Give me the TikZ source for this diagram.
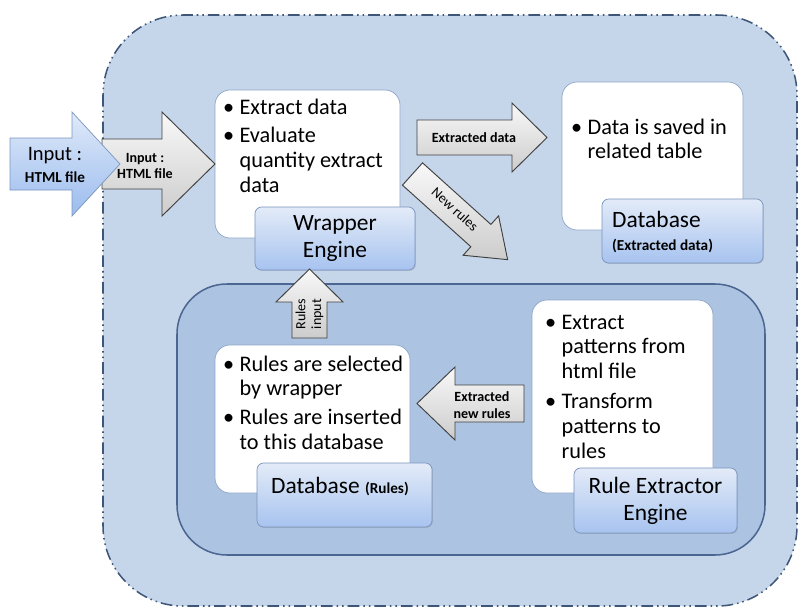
\documentclass[tikz,border=0pt]{standalone}
\usepackage{fontspec}
\setmainfont{Carlito}
\usetikzlibrary{fit,shadows}

\definecolor{outerbg}{HTML}{C5D5EA}
\definecolor{innerbg}{HTML}{ADC3E2}
\definecolor{frame}{HTML}{3E5678}
\definecolor{innerframe}{HTML}{4B6690}
\definecolor{boxedge}{HTML}{8EA6C9}
\definecolor{titletop}{HTML}{E3EBF8}
\definecolor{titlebottom}{HTML}{A7C3EF}
\definecolor{titleedge}{HTML}{7B95BD}
\definecolor{bluetop}{HTML}{E0EAF9}
\definecolor{bluebottom}{HTML}{9BBCEE}

\tikzset{
  outerbox/.style={
    fill=outerbg, draw=frame, line width=1.3pt,
    dash pattern=on 10pt off 3.4pt on 1.3pt off 3.4pt on 1.3pt off 3.4pt,
    rounded corners=2.4cm},
  innerbox/.style={fill=innerbg, draw=innerframe, line width=1.3pt, rounded corners=1.5cm},
  whitebox/.style={fill=white, draw=boxedge, line width=0.6pt,
    rounded corners=0.45cm, inner sep=0pt},
  titlebox/.style={
    top color=titletop, bottom color=titlebottom,
    draw=titleedge, line width=0.6pt,
    rounded corners=0.2cm, inner sep=0pt,
    drop shadow={opacity=0.3, shadow xshift=0.8pt, shadow yshift=-0.8pt}},
  titletext/.style={font=\fontsize{20}{23}\selectfont, align=center, inner sep=0pt},
  bullets/.style={font=\fontsize{19}{21.3}\selectfont, anchor=base west, inner sep=0pt},
  grayarrow/.style={top color=gray!5, bottom color=gray!40, draw=black!75, line width=0.8pt},
  bluearrow/.style={top color=bluetop, bottom color=bluebottom, draw=titleedge, line width=0.6pt},
  tag/.style={font=\fontsize{12}{14}\selectfont\bfseries, align=center, inner sep=0pt},
  tagthin/.style={font=\fontsize{12}{13.5}\selectfont, align=center, inner sep=0pt},
}

% block arrow: style, tail, angle, length, half shaft, half head, head length
\newcommand{\blockarrow}[7]{%
  \draw[#1, shift={#2}, rotate=#3]
    (0,{-#5}) -- ({#4-#7},{-#5}) -- ({#4-#7},{-#6}) -- (#4,0)
    -- ({#4-#7},#6) -- ({#4-#7},#5) -- (0,#5) -- cycle;}
\newcommand{\itm}{\makebox[14pt][l]{\textbullet}}
\newcommand{\ind}{\hspace*{14pt}}

\begin{document}
\begin{tikzpicture}[x=0.03cm, y=-0.03cm]
    \useasboundingbox (0,0) rectangle (800,612);

    % frames
    \draw[outerbox] (103,15) rectangle (797,606);
    \draw[innerbox] (177,284) rectangle (765,555);

    % white boxes
    \node[whitebox, fit={(215,90) (400,238)}] (wrapbox) {};
    \node[whitebox, fit={(562,82) (743,230)}] (databox) {};
    \node[whitebox, fit={(215,345) (410,493)}] (rulesbox) {};
    \node[whitebox, fit={(532,300) (713,493)}] (extrbox) {};

    \node[bullets] (wraptext) at (223,114) {\begin{tabular}[t]{@{}l@{}}
        \itm Extract data\\[3pt]
        \itm Evaluate\\
        \ind quantity extract\\
        \ind data\end{tabular}};
    \node[bullets] (datatext) at (571,134) {\begin{tabular}[t]{@{}l@{}}
        \itm Data is saved in\\
        \ind related table\end{tabular}};
    \node[bullets] (rulestext) at (223,371) {\begin{tabular}[t]{@{}l@{}}
        \itm Rules are selected\\
        \ind by wrapper\\[3pt]
        \itm Rules are inserted\\
        \ind to this database\end{tabular}};
    \node[bullets] (extrtext) at (545,329) {\begin{tabular}[t]{@{}l@{}}
        \itm Extract\\
        \ind patterns from\\
        \ind html file\\[4pt]
        \itm Transform\\
        \ind patterns to\\
        \ind rules\end{tabular}};

    % title boxes
    \node[titlebox, fit={(255,207) (415,270)}] (wrapeng) {};
    \node[titletext] at (wrapeng.center) {Wrapper\\Engine};

    \node[titlebox, fit={(602,199) (763,263)}] (dbextr) {};
    \node[titletext, anchor=west, align=left] (dbextrtext) at (612,232)
        {Database\\[-3pt]{\bfseries\fontsize{13}{14}\selectfont (Extracted data)}};

    \node[titlebox, fit={(257,463) (432,527)}] (dbrules) {};
    \node[titletext] (dbrulestext) at (340,487)
        {Database {\bfseries\fontsize{13}{14}\selectfont (Rules)}};

    \node[titlebox, fit={(574,468) (737,533)}] (reeng) {};
    \node[titletext] (reengtext) at (reeng.center) {Rule Extractor\\Engine};

    % arrows
    \blockarrow{grayarrow}{(102,164)}{0}{113}{25}{52}{53}
    \blockarrow{bluearrow}{(10,164)}{0}{110}{26}{52}{48}
    \node[font=\fontsize{17.5}{19}\selectfont, align=center, inner sep=0pt] (inlbl) at (55,165)
        {Input :\\{\bfseries\fontsize{13}{15}\selectfont HTML file}};
    \node[tag] (inlbl2) at (145,166) {Input :\\HTML file};

    \blockarrow{grayarrow}{(417,137.5)}{0}{130}{17.5}{34.5}{35}
    \node[tag] (extlbl) at (474,138) {Extracted data};

    \blockarrow{grayarrow}{(412.5,174)}{-42}{128}{15}{26.5}{36}
    \node[tagthin, rotate=-42] (newlbl) at (455,209) {New rules};

    \blockarrow{grayarrow}{(309.5,338)}{90}{69}{17.5}{33.5}{33}
    \node[tagthin, rotate=90] (ruleinlbl) at (309.5,314) {Rules\\input};

    \blockarrow{grayarrow}{(524,403.5)}{180}{107}{18.5}{36.5}{38}
    \node[tag] (newruleslbl) at (482,405) {Extracted\\new rules};
\end{tikzpicture}
\end{document}
